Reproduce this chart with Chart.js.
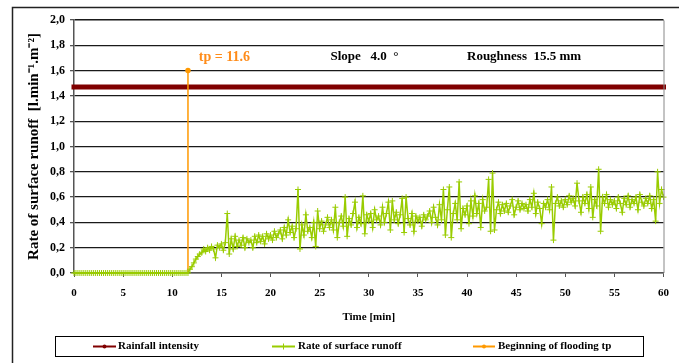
<!DOCTYPE html>
<html>
<head>
<meta charset="utf-8">
<script src="https://cdn.jsdelivr.net/npm/chart.js@4"></script>
<style>
    body { margin: 0; background: #fff; }
    canvas { display: block; }
</style>
</head>
<body>
<canvas id="myChart" width="679" height="363"></canvas>
<script>
// values
const stepMin = 0.2;

// runoff rate [l/min/m2], one row per minute (t = m, m+0.2 ... m+0.8)
const runoffRate = [
    0, 0, 0, 0, 0,
    0, 0, 0, 0, 0,
    0, 0, 0, 0, 0,
    0, 0, 0, 0, 0,
    0, 0, 0, 0, 0,
    0, 0, 0, 0, 0,
    0, 0, 0, 0, 0,
    0, 0, 0, 0, 0,
    0, 0, 0, 0, 0,
    0, 0, 0, 0, 0,
    0, 0, 0, 0, 0,
    0, 0, 0, 0, 0.03,
    0.05, 0.08, 0.11, 0.13, 0.15,
    0.16, 0.19, 0.17, 0.20, 0.18,
    0.21, 0.19, 0.12, 0.22, 0.20,
    0.23, 0.18, 0.24, 0.47, 0.15,
    0.27, 0.19, 0.29, 0.21, 0.26,
    0.22, 0.28, 0.20, 0.27, 0.24,
    0.26, 0.20, 0.29, 0.24, 0.30,
    0.25, 0.29, 0.23, 0.31, 0.27,
    0.30, 0.26, 0.33, 0.28, 0.31,
    0.34, 0.27, 0.36, 0.30, 0.42,
    0.32, 0.37, 0.28, 0.35, 0.66,
    0.19, 0.38, 0.30, 0.46, 0.33,
    0.36, 0.28, 0.40, 0.21, 0.49,
    0.35, 0.41, 0.33, 0.38, 0.44,
    0.36, 0.42, 0.34, 0.52, 0.28,
    0.40, 0.45, 0.37, 0.60, 0.29,
    0.43, 0.38, 0.47, 0.56, 0.36,
    0.44, 0.39, 0.61, 0.31, 0.46,
    0.41, 0.47, 0.36, 0.50, 0.42,
    0.45, 0.38, 0.52, 0.40, 0.47,
    0.56, 0.34, 0.57, 0.42, 0.48,
    0.39, 0.46, 0.59, 0.32, 0.60,
    0.43, 0.38, 0.47, 0.33, 0.45,
    0.41, 0.44, 0.37, 0.46, 0.42,
    0.45, 0.49, 0.40, 0.52, 0.44,
    0.38, 0.54, 0.42, 0.66, 0.30,
    0.50, 0.68, 0.28, 0.47, 0.55,
    0.42, 0.72, 0.35, 0.51, 0.46,
    0.53, 0.39, 0.57, 0.45, 0.61,
    0.47, 0.55, 0.36, 0.58, 0.49,
    0.52, 0.74, 0.33, 0.79, 0.34,
    0.50, 0.56, 0.47, 0.54, 0.49,
    0.55, 0.48, 0.53, 0.58, 0.46,
    0.52, 0.57, 0.50, 0.55, 0.51,
    0.54, 0.49, 0.58, 0.52, 0.63,
    0.47, 0.56, 0.51, 0.39, 0.55,
    0.52, 0.58, 0.50, 0.68, 0.26,
    0.55, 0.60, 0.53, 0.57, 0.52,
    0.58, 0.54, 0.61, 0.56, 0.59,
    0.53, 0.71, 0.57, 0.48, 0.60,
    0.55, 0.62, 0.51, 0.68, 0.44,
    0.58, 0.53, 0.82, 0.33, 0.60,
    0.55, 0.62, 0.52, 0.58, 0.54,
    0.57, 0.51, 0.60, 0.55, 0.48,
    0.59, 0.54, 0.61, 0.52, 0.58,
    0.55, 0.60, 0.50, 0.62, 0.56,
    0.53, 0.59, 0.55, 0.61, 0.51,
    0.58, 0.41, 0.80, 0.55, 0.66,
    0.60
];

const rainfallTimes = [0, 60];
const rainfallValues = [1.47, 1.47];

const tp = 11.6;
const floodTimes = [tp, tp];
const floodValues = [0, 1.6];

const seriesNames = ["Rainfall intensity", "Rate of surface runoff", "Beginning of flooding tp"];
const annotations = ["tp = 11.6", "Slope   4.0  °", "Roughness  15.5 mm"];

const serif = "'Liberation Serif', 'Times New Roman', serif";

const toPoints = (xs, ys) => xs.map((x, i) => ({ x, y: ys[i] }));
const runoffPoints = runoffRate.map((v, i) => ({ x: +(i * stepMin).toFixed(1), y: v }));

const framePlugin = {
    id: 'frame',
    beforeDraw(chart) {
        const { ctx } = chart;
        ctx.save();
        ctx.fillStyle = '#fff';
        ctx.fillRect(0, 0, chart.width, chart.height);
        ctx.strokeStyle = '#222';
        ctx.lineWidth = 1.5;
        ctx.strokeRect(12.5, 7.5, 700, 400);
        ctx.restore();
    },
    afterDraw(chart) {
        const { ctx, chartArea: a, scales } = chart;
        ctx.save();
        // plot area border
        ctx.strokeStyle = '#888';
        ctx.lineWidth = 1;
        ctx.beginPath();
        ctx.moveTo(a.left, a.top + 0.5);
        ctx.lineTo(a.right + 0.5, a.top + 0.5);
        ctx.lineTo(a.right + 0.5, a.bottom);
        ctx.stroke();

        // texts inside the plot
        ctx.textBaseline = 'middle';
        ctx.font = `bold 14px ${serif}`;
        ctx.fillStyle = '#ff8c1a';
        ctx.fillText(annotations[0], scales.x.getPixelForValue(12.7), scales.y.getPixelForValue(1.707));
        ctx.font = `bold 13px ${serif}`;
        ctx.fillStyle = '#000';
        ctx.fillText(annotations[1], scales.x.getPixelForValue(26.1), scales.y.getPixelForValue(1.707));
        ctx.fillText(annotations[2], scales.x.getPixelForValue(40.0), scales.y.getPixelForValue(1.707));

        // legend
        ctx.strokeStyle = '#000';
        ctx.lineWidth = 1;
        ctx.strokeRect(55.5, 336.5, 588, 20);
        const ly = 346.5;
        const items = [[93, 116, 118], [272, 295, 298], [473, 495, 498]];
        chart.data.datasets.forEach((ds, i) => {
            const [x0, x1, tx] = items[i];
            ctx.strokeStyle = ds.borderColor;
            ctx.lineWidth = 2;
            ctx.beginPath();
            ctx.moveTo(x0, ly);
            ctx.lineTo(x1, ly);
            ctx.stroke();
            const cx = (x0 + x1) / 2;
            if (ds.pointStyle === 'cross') {
                ctx.lineWidth = 1;
                ctx.beginPath();
                ctx.moveTo(cx - 3, ly); ctx.lineTo(cx + 3, ly);
                ctx.moveTo(cx, ly - 3); ctx.lineTo(cx, ly + 3);
                ctx.stroke();
            } else {
                ctx.fillStyle = ds.borderColor;
                ctx.beginPath();
                ctx.arc(cx, ly, 2, 0, Math.PI * 2);
                ctx.fill();
            }
            ctx.fillStyle = '#000';
            ctx.font = `bold 11px ${serif}`;
            ctx.fillText(ds.label, tx, ly);
        });
        ctx.restore();
    }
};

const ctx = document.getElementById('myChart').getContext('2d');

new Chart(ctx, {
    type: 'line',
    data: {
        datasets: [{
            label: seriesNames[0],
            data: toPoints(rainfallTimes, rainfallValues),
            borderColor: '#800000',
            backgroundColor: '#800000',
            borderWidth: 5,
            borderCapStyle: 'square',
            pointRadius: 0,
            pointStyle: 'circle',
            clip: false,
            order: 3
        }, {
            label: seriesNames[1],
            data: runoffPoints,
            borderColor: '#99cc00',
            backgroundColor: '#99cc00',
            borderWidth: 1.5,
            pointStyle: 'cross',
            pointRadius: 3,
            pointBorderWidth: 1,
            clip: false,
            order: 1
        }, {
            label: seriesNames[2],
            data: toPoints(floodTimes, floodValues),
            borderColor: '#ff9900',
            backgroundColor: '#ff9900',
            borderWidth: 1.5,
            pointRadius: [0, 2],
            pointStyle: 'circle',
            clip: false,
            order: 2
        }]
    },
    options: {
        responsive: false,
        animation: false,
        layout: { autoPadding: false, padding: { top: 20, right: 11, left: 0, bottom: 0 } },
        plugins: {
            legend: { display: false },
            tooltip: { enabled: false }
        },
        scales: {
            x: {
                type: 'linear',
                min: 0,
                max: 60,
                afterFit(s) { s.height = 90; },
                grid: { drawOnChartArea: false, drawTicks: true, tickLength: 4, color: '#555' },
                border: { color: '#555', width: 1.5 },
                ticks: {
                    stepSize: 5,
                    color: '#000',
                    padding: 10,
                    maxRotation: 0,
                    font: { family: serif, size: 11, weight: 'bold' }
                },
                title: {
                    display: true,
                    text: 'Time [min]',
                    color: '#000',
                    padding: { bottom: 39 },
                    font: { family: serif, size: 11, weight: 'bold' }
                }
            },
            y: {
                min: 0,
                max: 2,
                afterFit(s) { s.width = 74; },
                grid: { color: '#1a1a1a', lineWidth: 1.3, tickLength: 4, tickColor: '#555' },
                border: { color: '#555', width: 1.5 },
                ticks: {
                    stepSize: 0.2,
                    color: '#000',
                    padding: 5,
                    font: { family: serif, size: 12, weight: 'bold' },
                    callback: v => v.toFixed(1).replace('.', ',')
                },
                title: {
                    display: true,
                    text: 'Rate of surface runoff  [l.min⁻¹.m⁻²]',
                    color: '#000',
                    padding: { top: 25 },
                    font: { family: serif, size: 15, weight: 'bold' }
                }
            }
        }
    },
    plugins: [framePlugin]
});
</script>
</body>
</html>
